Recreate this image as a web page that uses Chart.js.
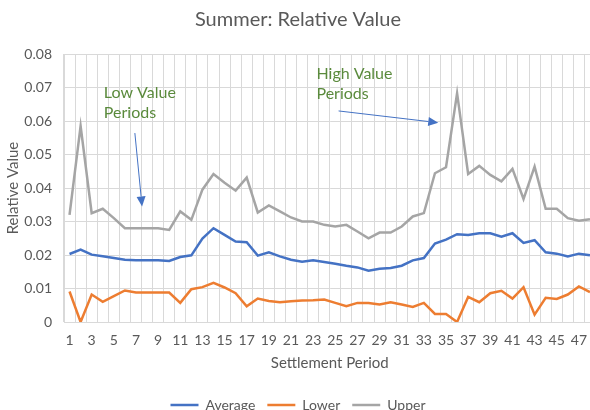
<!DOCTYPE html>
<html>
<head>
<meta charset="utf-8">
<script src="https://cdn.jsdelivr.net/npm/chart.js@4.4.1/dist/chart.umd.min.js"></script>
<style>
html, body { margin: 0; padding: 0; background: #fff; overflow: hidden; width: 590px; height: 410px; }
canvas { display: block; }
</style>
</head>
<body>
<canvas id="chart" width="600" height="422"></canvas>
<script>
var periods = ['1', '2', '3', '4', '5', '6', '7', '8', '9', '10', '11', '12',
    '13', '14', '15', '16', '17', '18', '19', '20', '21', '22', '23', '24',
    '25', '26', '27', '28', '29', '30', '31', '32', '33', '34', '35', '36',
    '37', '38', '39', '40', '41', '42', '43', '44', '45', '46', '47', '48'];

var average = [0.0203, 0.0216, 0.0201, 0.0196, 0.0191, 0.0186, 0.0184, 0.0184, 0.0184, 0.0182,
    0.0194, 0.0199, 0.0249, 0.0280, 0.0260, 0.0240, 0.0238, 0.0198, 0.0208, 0.0196,
    0.0186, 0.0180, 0.0184, 0.0179, 0.0174, 0.0168, 0.0163, 0.0153, 0.0159, 0.0161,
    0.0168, 0.0184, 0.0191, 0.0234, 0.0246, 0.0262, 0.0260, 0.0265, 0.0265, 0.0255,
    0.0265, 0.0236, 0.0244, 0.0208, 0.0204, 0.0196, 0.0204, 0.0199];

var lower = [0.0091, 0, 0.0082, 0.0060, 0.0077, 0.0094, 0.0088, 0.0088, 0.0088, 0.0088,
    0.0057, 0.0098, 0.0104, 0.0117, 0.0103, 0.0086, 0.0047, 0.0070, 0.0063, 0.0059,
    0.0062, 0.0064, 0.0065, 0.0067, 0.0057, 0.0047, 0.0057, 0.0057, 0.0052, 0.0059,
    0.0052, 0.0045, 0.0057, 0.0024, 0.0024, 0, 0.0075, 0.0059, 0.0086, 0.0093,
    0.0070, 0.0104, 0.0022, 0.0072, 0.0069, 0.0082, 0.0106, 0.0089];

var upper = [0.0320, 0.0585, 0.0325, 0.0338, 0.0310, 0.0280, 0.0280, 0.0280, 0.0280, 0.0275,
    0.0330, 0.0305, 0.0395, 0.0442, 0.0416, 0.0392, 0.0431, 0.0327, 0.0348, 0.0330,
    0.0312, 0.0300, 0.0300, 0.0290, 0.0285, 0.0290, 0.0270, 0.0250, 0.0267, 0.0267,
    0.0285, 0.0315, 0.0325, 0.0444, 0.0462, 0.0683, 0.0442, 0.0466, 0.0439, 0.0420,
    0.0457, 0.0367, 0.0464, 0.0338, 0.0338, 0.0310, 0.0302, 0.0307];

// callouts, placed in data units (x = category index, y = value)
var noteTexts = [['Low Value', 'Periods'], ['High Value', 'Periods']];
var noteAt = [[3.1, 0.0685], [22.3, 0.0742]];
var arrowFrom = [[5.9, 0.0564], [24.3, 0.0630]];
var arrowTo = [[6.55, 0.0345], [33.3, 0.0595]];

var blue = '#4472C4';
var orange = '#ED7D31';
var grey = '#A5A5A5';
var textGrey = '#595959';
var gridGrey = '#D9D9D9';
var noteGreen = '#5A8A3C';
var font = 'Lato';

var notesPlugin = {
    id: 'notes',
    afterDatasetsDraw: function (chart) {
        var ctx = chart.ctx;
        var xs = chart.scales.x;
        var ys = chart.scales.y;
        ctx.save();
        ctx.font = '16px ' + font;
        ctx.textAlign = 'left';
        ctx.textBaseline = 'middle';
        for (var i = 0; i < noteTexts.length; i++) {
            var x = xs.getPixelForValue(noteAt[i][0]);
            var y = ys.getPixelForValue(noteAt[i][1]);
            ctx.fillStyle = noteGreen;
            for (var j = 0; j < noteTexts[i].length; j++) {
                ctx.fillText(noteTexts[i][j], x, y + j * 20);
            }

            var x1 = xs.getPixelForValue(arrowFrom[i][0]);
            var y1 = ys.getPixelForValue(arrowFrom[i][1]);
            var x2 = xs.getPixelForValue(arrowTo[i][0]);
            var y2 = ys.getPixelForValue(arrowTo[i][1]);
            var a = Math.atan2(y2 - y1, x2 - x1);
            var hl = 10, hw = 4.5;
            var bx = x2 - Math.cos(a) * hl;
            var by = y2 - Math.sin(a) * hl;
            ctx.strokeStyle = blue;
            ctx.lineWidth = 1;
            ctx.beginPath();
            ctx.moveTo(x1, y1);
            ctx.lineTo(bx, by);
            ctx.stroke();
            ctx.fillStyle = blue;
            ctx.beginPath();
            ctx.moveTo(x2, y2);
            ctx.lineTo(bx - Math.sin(a) * hw, by + Math.cos(a) * hw);
            ctx.lineTo(bx + Math.sin(a) * hw, by - Math.cos(a) * hw);
            ctx.closePath();
            ctx.fill();
        }
        ctx.restore();
    }
};

var ctx = document.getElementById('chart').getContext('2d');

var chart = new Chart(ctx, {
    type: 'line',
    data: {
        labels: periods,
        datasets: [{
            label: 'Average',
            data: average,
            borderColor: blue,
            backgroundColor: blue,
            borderWidth: 2.5,
            pointRadius: 0,
            tension: 0
        }, {
            label: 'Lower',
            data: lower,
            borderColor: orange,
            backgroundColor: orange,
            borderWidth: 2.5,
            pointRadius: 0,
            tension: 0
        }, {
            label: 'Upper',
            data: upper,
            borderColor: grey,
            backgroundColor: grey,
            borderWidth: 2.5,
            pointRadius: 0,
            tension: 0
        }]
    },
    options: {
        responsive: false,
        animation: false,
        layout: { padding: { right: 4 } },
        plugins: {
            tooltip: { enabled: false },
            title: {
                display: true,
                text: 'Summer: Relative Value',
                color: textGrey,
                font: { family: font, size: 20, weight: 'normal' },
                padding: { top: 8, bottom: 22 }
            },
            legend: {
                position: 'bottom',
                labels: {
                    usePointStyle: true,
                    pointStyle: 'line',
                    pointStyleWidth: 28,
                    color: textGrey,
                    font: { family: font, size: 14 },
                    padding: 12
                }
            }
        },
        scales: {
            x: {
                offset: true,
                afterFit: function (scale) { scale.height = 64; },
                grid: { offset: true, color: gridGrey, drawTicks: false },
                border: { color: gridGrey },
                ticks: {
                    autoSkip: false,
                    maxRotation: 0,
                    padding: 10,
                    color: textGrey,
                    font: { family: font, size: 14 },
                    callback: function (value, index) {
                        return index % 2 === 0 ? this.getLabelForValue(value) : '';
                    }
                },
                title: {
                    display: true,
                    text: 'Settlement Period',
                    color: textGrey,
                    font: { family: font, size: 15 },
                    padding: { top: 3, bottom: 14 }
                }
            },
            y: {
                min: 0,
                max: 0.08,
                afterFit: function (scale) { scale.width = 64; },
                grid: { color: gridGrey, drawTicks: false },
                border: { color: gridGrey },
                ticks: {
                    stepSize: 0.01,
                    padding: 12,
                    color: textGrey,
                    font: { family: font, size: 14 }
                },
                title: {
                    display: true,
                    text: 'Relative Value',
                    color: textGrey,
                    font: { family: font, size: 15 },
                    padding: { top: 4.5, bottom: 0 }
                }
            }
        }
    },
    plugins: [notesPlugin]
});
</script>
</body>
</html>
